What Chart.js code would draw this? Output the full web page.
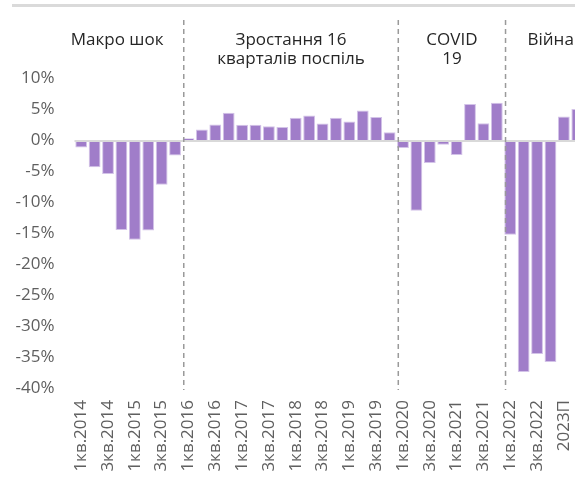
<!DOCTYPE html>
<html>
<head>
<meta charset="utf-8">
<script src="https://cdn.jsdelivr.net/npm/chart.js@4/dist/chart.umd.min.js"></script>
<style>
  html, body { margin: 0; padding: 0; background: #fff; overflow: hidden; width: 575px; height: 482px; }
  #wrap { position: absolute; left: 0; top: 0; width: 610px; height: 482px; }
</style>
</head>
<body>
<div id="wrap"><canvas id="c" width="610" height="482"></canvas></div>
<script>
const categories = [
  "1кв.2014", "2кв.2014", "3кв.2014", "4кв.2014",
  "1кв.2015", "2кв.2015", "3кв.2015", "4кв.2015",
  "1кв.2016", "2кв.2016", "3кв.2016", "4кв.2016",
  "1кв.2017", "2кв.2017", "3кв.2017", "4кв.2017",
  "1кв.2018", "2кв.2018", "3кв.2018", "4кв.2018",
  "1кв.2019", "2кв.2019", "3кв.2019", "4кв.2019",
  "1кв.2020", "2кв.2020", "3кв.2020", "4кв.2020",
  "1кв.2021", "2кв.2021", "3кв.2021", "4кв.2021",
  "1кв.2022", "2кв.2022", "3кв.2022", "4кв.2022",
  "2023П", "2024П"
];
const gdpGrowth = [
  -1.2, -4.4, -5.5, -14.5,
  -16.1, -14.6, -7.2, -2.5,
  0.3, 1.7, 2.5, 4.4,
  2.45, 2.45, 2.2, 2.1,
  3.6, 3.95, 2.65, 3.6,
  3.0, 4.75, 3.7, 1.25,
  -1.3, -11.4, -3.7, -0.75,
  -2.4, 5.8, 2.7, 6.0,
  -15.3, -37.4, -34.5, -35.8,
  3.8, 5.0
];
const yTicks = [10, 5, 0, -5, -10, -15, -20, -25, -30, -35, -40];
// period separators (between category indices) and headers
const separatorsAfter = [7, 23, 31];
const headerLines = [
  ["Макро шок"],
  ["Зростання 16", "кварталів поспіль"],
  ["COVID", "19"],
  ["Війна"]
];

const FONT = "'Open Sans', 'Noto Sans', sans-serif";

const decor = {
  id: 'decor',
  beforeDraw(chart) {
    const ctx = chart.ctx;
    ctx.save();
    ctx.strokeStyle = '#dadada';
    ctx.lineWidth = 3;
    ctx.beginPath();
    ctx.moveTo(12, 5.5);
    ctx.lineTo(chart.width, 5.5);
    ctx.stroke();
    ctx.restore();
  },
  afterDatasetsDraw(chart) {
    const ctx = chart.ctx;
    const x = chart.scales.x, y = chart.scales.y;
    const area = chart.chartArea;
    ctx.save();
    // zero line
    const y0 = y.getPixelForValue(0);
    ctx.strokeStyle = '#d9d9d9';
    ctx.lineWidth = 2;
    ctx.beginPath();
    ctx.moveTo(area.left, y0 + 1);
    ctx.lineTo(area.right, y0 + 1);
    ctx.stroke();
    // separators
    ctx.strokeStyle = '#9a9a9a';
    ctx.lineWidth = 1.5;
    ctx.setLineDash([5, 4]);
    const sepX = separatorsAfter.map(i => (x.getPixelForValue(i) + x.getPixelForValue(i + 1)) / 2 + 2);
    sepX.forEach(px => {
      ctx.beginPath();
      ctx.moveTo(px, 20);
      ctx.lineTo(px, area.bottom + 2);
      ctx.stroke();
    });
    ctx.setLineDash([]);
    // headers
    ctx.fillStyle = '#262626';
    ctx.font = "17px " + FONT;
    ctx.textBaseline = 'middle';
    const bounds = [area.left - 16].concat(sepX).concat([null]);
    headerLines.forEach((lines, k) => {
      const l = bounds[k], r = bounds[k + 1];
      lines.forEach((t, j) => {
        if (r === null) {
          ctx.textAlign = 'left';
          ctx.fillText(t, l + 22, 40 + j * 19);
        } else {
          ctx.textAlign = 'center';
          ctx.fillText(t, (l + r) / 2 + (k === 0 ? -4 : 0), 40 + j * 19);
        }
      });
    });
    ctx.restore();
  }
};

new Chart(document.getElementById('c'), {
  type: 'bar',
  data: {
    labels: categories,
    datasets: [{
      data: gdpGrowth,
      backgroundColor: '#a07dc9',
      borderColor: '#d3c3e8',
      borderWidth: 1,
      barPercentage: 0.88,
      categoryPercentage: 1.0
    }]
  },
  options: {
    responsive: false,
    animation: false,
    events: [],
    layout: { padding: { top: 78, right: 24.4, left: 0, bottom: 0 } },
    plugins: { legend: { display: false }, tooltip: { enabled: false } },
    scales: {
      x: {
        grid: { display: false, drawTicks: false },
        border: { display: false },
        ticks: {
          autoSkip: false,
          maxRotation: 90,
          minRotation: 90,
          padding: 12,
          color: '#5f5f5f',
          font: { family: FONT, size: 17 },
          callback: function(v, i) { return i % 2 === 0 ? categories[i] : ''; }
        },
        afterFit(s) { s.height = 94; }
      },
      y: {
        min: -40,
        max: 10,
        afterBuildTicks(s) { s.ticks = yTicks.map(v => ({ value: v })); },
        grid: { display: false, drawTicks: false },
        border: { display: false },
        ticks: {
          padding: 20,
          color: '#5f5f5f',
          font: { family: FONT, size: 17 },
          callback: v => v + '%'
        },
        afterFit(s) { s.width = 74.5; }
      }
    }
  },
  plugins: [decor]
});
</script>
</body>
</html>
